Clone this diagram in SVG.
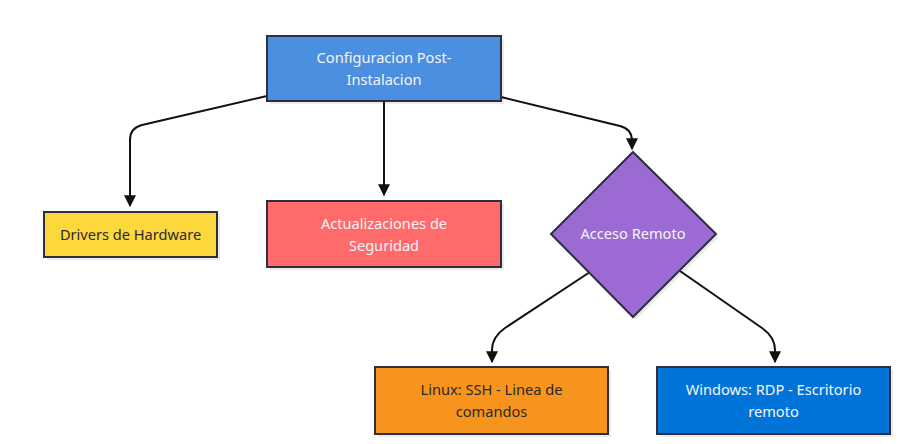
<svg xmlns="http://www.w3.org/2000/svg" width="916" height="444" viewBox="0 0 916 444">
<style>
.n{stroke:#2e2e3e;stroke-width:2}
.sh{fill:#000;opacity:0.08}
.e{fill:none;stroke:#111;stroke-width:2;marker-end:url(#ah)}
text{font-family:"Noto Sans","Open Sans",sans-serif;font-size:14.6px;text-anchor:middle}
.w{fill:#f4f4f8}
.d{fill:#2a2a2a}
</style>
<defs>
<marker id="ah" viewBox="0 0 10 10" refX="9" refY="5" markerWidth="6" markerHeight="6" markerUnits="strokeWidth" orient="auto">
<path d="M0,0 L10,5 L0,10 z" fill="#111"/>
</marker>
</defs>
<rect width="916" height="444" fill="#ffffff"/>
<g id="connectors">
<path class="e" d="M267,96 L142,125 Q130,128 130,140 L130,206"/>
<path class="e" d="M384,101 L384,195"/>
<path class="e" d="M501,97 L620,126 Q632,129 632,141 L632,149"/>
<path class="e" d="M590,272 L505,328 Q492,337 492,350 L492,362"/>
<path class="e" d="M680,271 L762,328 Q775,337 775,350 L775,362"/>
</g>
<g id="config">
<rect class="sh" x="270" y="39" width="234" height="65"/>
<rect class="n" x="267" y="36" width="234" height="65" fill="#4a8fe0"/>
<text class="w" x="384" y="63">Configuracion Post-</text>
<text class="w" x="384" y="85">Instalacion</text>
</g>
<g id="drivers">
<rect class="sh" x="47" y="215" width="173" height="45"/>
<rect class="n" x="44" y="212" width="173" height="45" fill="#fdd83c"/>
<text class="d" x="130.5" y="240">Drivers de Hardware</text>
</g>
<g id="actualizaciones">
<rect class="sh" x="270" y="204" width="234" height="66"/>
<rect class="n" x="267" y="201" width="234" height="66" fill="#ff6b6b"/>
<text class="w" x="384" y="229">Actualizaciones de</text>
<text class="w" x="384" y="251">Seguridad</text>
</g>
<g id="acceso">
<polygon class="sh" points="636,155 719,237 636,320 554,237"/>
<polygon class="n" points="633,152 716,234 633,317 551,234" fill="#9b6bd3"/>
<text class="w" x="633" y="239">Acceso Remoto</text>
</g>
<g id="linux">
<rect class="sh" x="378" y="370" width="233" height="67"/>
<rect class="n" x="375" y="367" width="233" height="67" fill="#f7941e"/>
<text class="d" x="491.5" y="395">Linux: SSH - Linea de</text>
<text class="d" x="491.5" y="417">comandos</text>
</g>
<g id="windows">
<rect class="sh" x="660" y="370" width="233" height="67"/>
<rect class="n" x="657" y="367" width="233" height="67" fill="#0074d9"/>
<text class="w" x="773.5" y="395">Windows: RDP - Escritorio</text>
<text class="w" x="773.5" y="417">remoto</text>
</g>
</svg>
